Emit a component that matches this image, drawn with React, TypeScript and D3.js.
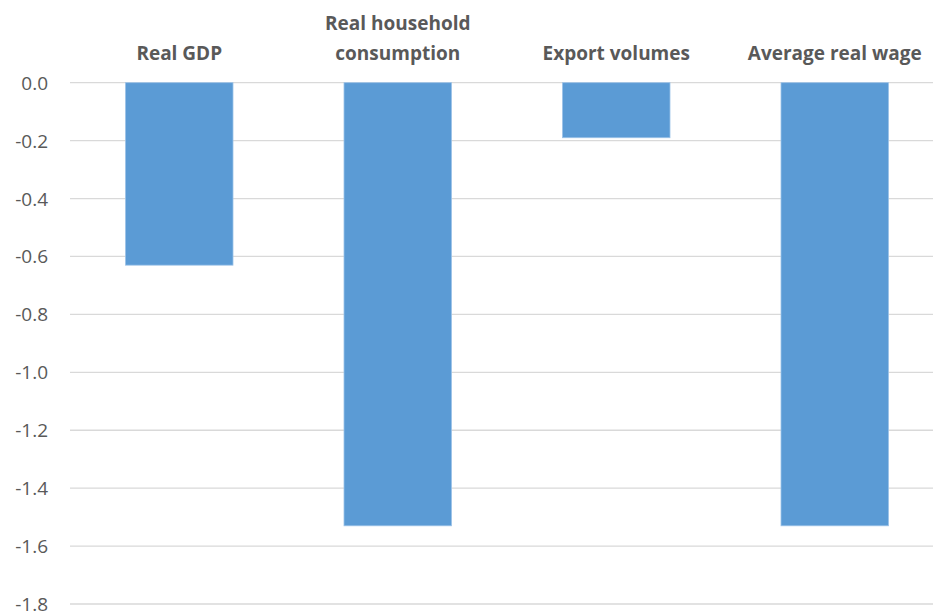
import React from "react";
import * as d3 from "d3";

const categories: string[][] = [
  ["Real GDP"],
  ["Real household", "consumption"],
  ["Export volumes"],
  ["Average real wage"],
];
const values: number[] = [-0.63, -1.53, -0.19, -1.53];
const yTicks: number[] = [0, -0.2, -0.4, -0.6, -0.8, -1.0, -1.2, -1.4, -1.6, -1.8];

const W = 933;
const H = 612;

export default function App() {
  const keys = categories.map((c) => c.join(" "));
  const x = d3
    .scaleBand<string>()
    .domain(keys)
    .range([70, 944])
    .paddingInner(0.508)
    .paddingOuter(0.254);
  const y = d3.scaleLinear().domain([0, -1.8]).range([82.7, 604]);
  const fmt = (t: number) => d3.format(".1f")(t).replace("\u2212", "-");
  const font = "'Open Sans', 'Liberation Sans', sans-serif";
  return (
    <svg
      width={W}
      height={H}
      style={{ position: "absolute", left: 0, top: 0, background: "#fff" }}
      fontFamily={font}
    >
      {yTicks.map((t) => (
        <g key={t}>
          <line x1={70} x2={W} y1={y(t)} y2={y(t)} stroke="#d9d9d9" strokeWidth={1.3} />
          <text
            x={48}
            y={y(t)}
            textAnchor="end"
            dominantBaseline="central"
            fontSize={19}
            fill="#595959"
          >
            {fmt(t)}
          </text>
        </g>
      ))}
      {values.map((v, i) => {
        const k = keys[i];
        const y0 = y(0);
        const y1 = y(v);
        return (
          <rect
            key={k}
            x={x(k)!}
            y={Math.min(y0, y1)}
            width={x.bandwidth()}
            height={Math.abs(y1 - y0)}
            fill="#5b9bd5"
            stroke="#9cc3e8"
            strokeWidth={0.8}
          />
        );
      })}
      {categories.map((lines, i) => {
        const k = keys[i];
        const cx = x(k)! + x.bandwidth() / 2;
        const n = lines.length;
        return (
          <text
            key={k}
            x={cx}
            textAnchor="middle"
            fontSize={19}
            fontWeight="bold"
            fill="#595959"
          >
            {lines.map((l, j) => (
              <tspan key={j} x={cx} y={59.5 - (n - 1 - j) * 30}>
                {l}
              </tspan>
            ))}
          </text>
        );
      })}
    </svg>
  );
}
